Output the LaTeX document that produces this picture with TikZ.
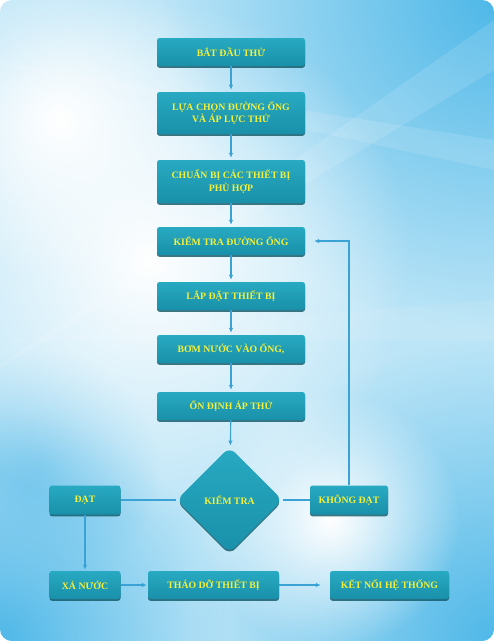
\documentclass[tikz,border=0pt]{standalone}
\usepackage{fontspec}
\setmainfont{Liberation Serif}
\usetikzlibrary{shapes.geometric,arrows.meta,shadows,fadings}
\definecolor{boxc}{HTML}{1E9DB5}
\definecolor{boxtop}{HTML}{28AAC2}
\definecolor{boxbot}{HTML}{1990A9}
\definecolor{txt}{HTML}{F4F03A}
\definecolor{ln}{HTML}{3AA2D4}
\definecolor{bgbase}{HTML}{BCE5F7}
\definecolor{bgblue}{HTML}{4FB8E8}
\tikzfading[name=softglow, inner color=transparent!0, outer color=transparent!100]
\begin{document}
\begin{tikzpicture}[x=1pt,y=-1pt,
  stepbox/.style={rectangle, rounded corners=2.5pt, top color=boxtop, bottom color=boxbot,
    minimum width=148pt, minimum height=28pt, text=txt, font=\bfseries\fontsize{9.8}{12.5}\selectfont,
    align=center, inner sep=2pt,
    drop shadow={shadow xshift=0pt, shadow yshift=-1.8pt, opacity=0.8, fill=black!45!boxc}},
  decbox/.style={diamond, aspect=1, minimum width=106pt, minimum height=106pt, inner sep=0pt,
    rounded corners=8pt, top color=boxtop, bottom color=boxbot, text=txt,
    font=\bfseries\fontsize{9.8}{12.5}\selectfont,
    drop shadow={shadow xshift=0pt, shadow yshift=-1.8pt, opacity=0.8, fill=black!45!boxc}},
  arr/.style={draw=ln, line width=1.1pt, -{Latex[length=5pt,width=4.5pt]}},
  plainln/.style={draw=ln, line width=1.1pt},
  glow/.style={path fading=softglow}
]
% background
\useasboundingbox (0,0) rectangle (494,641);
\fill[white] (0,0) rectangle (494,641);
\begin{scope}
  \clip[rounded corners=12pt] (0,0) rectangle (494,641);
  \fill[bgbase] (0,0) rectangle (494,641);
  \fill[bgblue, glow] (494,0) circle (330);
  \fill[bgblue, glow] (494,641) circle (300);
  \fill[bgblue, glow] (0,641) circle (230);
  \fill[bgblue!80, glow] (40,470) circle (120);
  \fill[white, glow] (150,260) circle (260);
  \fill[white, glow] (60,120) circle (160);
  \fill[white, glow] (330,520) circle (130);
  \fill[white, fill opacity=0.12] (-20,60) -- (494,140) -- (494,170) -- cycle;
  \fill[white, fill opacity=0.12] (-20,380) -- (494,20) -- (494,70) -- cycle;
  \fill[white, fill opacity=0.08] (0,340) -- (494,300) -- (494,340) -- cycle;
\end{scope}
% main column
\node[stepbox] (b1) at (231,52) {BẮT ĐẦU THỬ};
\node[stepbox, minimum height=42pt] (b2) at (231,113) {LỰA CHỌN ĐƯỜNG ỐNG\\VÀ ÁP LỰC THỬ};
\node[stepbox, minimum height=43pt] (b3) at (231,181.5) {CHUẨN BỊ CÁC THIẾT BỊ\\PHÙ HỢP};
\node[stepbox] (b4) at (231,241) {KIỂM TRA ĐƯỜNG ỐNG};
\node[stepbox] (b5) at (231,296) {LẮP ĐẶT THIẾT BỊ};
\node[stepbox] (b6) at (231,349) {BƠM NƯỚC VÀO ỐNG,};
\node[stepbox] (b7) at (231,406) {ỔN ĐỊNH ÁP THỬ};
\node[decbox] (kt) at (229.5,500) {KIỂM TRA};
\node[stepbox, minimum width=71pt, minimum height=29pt] (dat) at (85,500) {ĐẠT};
\node[stepbox, minimum width=78pt, minimum height=29pt] (kd) at (349,500) {KHÔNG ĐẠT};
\node[stepbox, minimum width=71pt] (xa) at (85,585) {XẢ NƯỚC};
\node[stepbox, minimum width=131pt] (thao) at (213.5,585) {THÁO DỠ THIẾT BỊ};
\node[stepbox, minimum width=119pt] (ket) at (389.5,585) {KẾT NỐI HỆ THỐNG};
% connectors
\draw[arr, shorten >=2pt] (b1) -- (b2);
\draw[arr, shorten >=2pt] (b2) -- (b3);
\draw[arr, shorten >=2pt] (b3) -- (b4);
\draw[arr, shorten >=2pt] (b4) -- (b5);
\draw[arr, shorten >=2pt] (b5) -- (b6);
\draw[arr, shorten >=2pt] (b6) -- (b7);
\draw[arr, shorten >=2pt] (b7) -- (kt);
\draw[plainln] (dat) -- (kt);
\draw[plainln] (kt) -- (kd);
\draw[arr, shorten >=9pt] (kd.north) |- (b4.east);
\draw[arr, shorten >=1pt] (dat) -- (xa);
\draw[arr, shorten >=1pt] (xa) -- (thao);
\draw[arr, shorten >=9pt] (thao) -- (ket);
\end{tikzpicture}
\end{document}
